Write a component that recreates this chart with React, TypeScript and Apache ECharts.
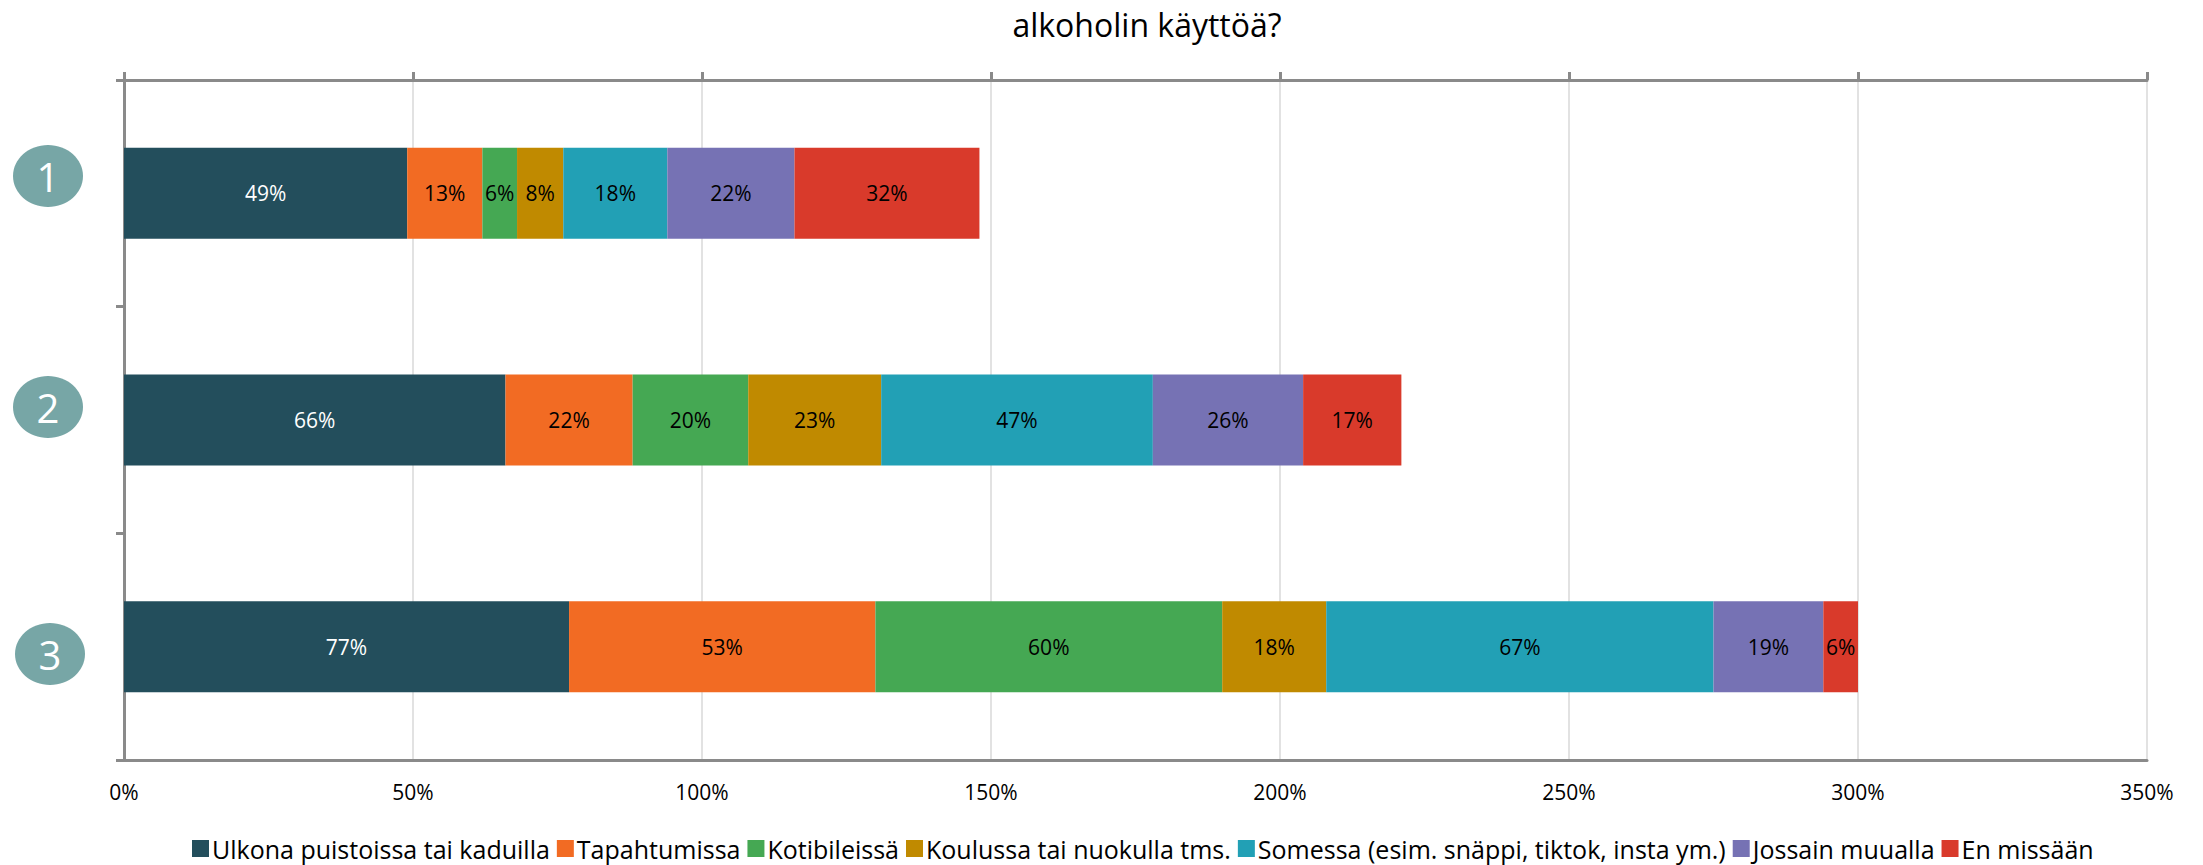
import React, { useEffect, useRef } from "react";
import * as echarts from "echarts";

const titleText = "alkoholin käyttöä?";
const categories = ["1", "2", "3"];
const seriesNames = [
  "Ulkona puistoissa tai kaduilla",
  "Tapahtumissa",
  "Kotibileissä",
  "Koulussa tai nuokulla tms.",
  "Somessa (esim. snäppi, tiktok, insta ym.)",
  "Jossain muualla",
  "En missään",
];
const ulkona = [49, 66, 77];
const tapahtumissa = [13, 22, 53];
const kotibileissa = [6, 20, 60];
const koulussa = [8, 23, 18];
const somessa = [18, 47, 67];
const jossain = [22, 26, 19];
const enMissaan = [32, 17, 6];
const seriesValues = [ulkona, tapahtumissa, kotibileissa, koulussa, somessa, jossain, enMissaan];
const colors = ["#234E5C", "#F26B23", "#45A853", "#C08A00", "#22A0B5", "#7672B4", "#D93A2B"];
const xTicks = { min: 0, max: 350, interval: 50 };

const FONT = "'Open Sans', sans-serif";
const AXIS_GRAY = "#8A8A8A";

export default function App() {
  const ref = useRef<HTMLDivElement>(null);
  useEffect(() => {
    if (!ref.current) return;
    const chart = echarts.init(ref.current, null, { renderer: "svg" });
    const circlePos = [
      [48, 176],
      [48, 407],
      [50, 654],
    ];
    const graphics: any[] = [];
    categories.forEach((c, i) => {
      graphics.push({
        type: "ellipse",
        shape: { cx: circlePos[i][0], cy: circlePos[i][1], rx: 35, ry: 31 },
        style: { fill: "#77A6A6" },
        z: 10,
      });
      graphics.push({
        type: "text",
        x: circlePos[i][0],
        y: circlePos[i][1],
        style: {
          text: c,
          fill: "#ffffff",
          font: `40px ${FONT}`,
          textAlign: "center",
          textVerticalAlign: "middle",
        },
        z: 11,
      });
    });
    chart.setOption({
      animation: false,
      textStyle: { fontFamily: FONT },
      title: {
        text: titleText,
        left: 1142,
        textAlign: "center",
        top: 3,
        textStyle: { fontFamily: FONT, fontSize: 32, fontWeight: "normal", color: "#000" },
      },
      legend: {
        left: 192,
        top: 836,
        padding: 0,
        icon: "rect",
        itemWidth: 17,
        itemHeight: 17,
        itemGap: 7,
        textStyle: { fontFamily: FONT, fontSize: 25, color: "#000", padding: [0, 0, 0, -2] },
        data: seriesNames,
      },
      grid: { left: 124, top: 80, width: 2023, height: 680, containLabel: false },
      xAxis: [
        {
          type: "value",
          position: "bottom",
          min: xTicks.min,
          max: xTicks.max,
          interval: xTicks.interval,
          axisLine: { show: true, lineStyle: { color: AXIS_GRAY, width: 3 } },
          axisTick: { show: false },
          axisLabel: {
            formatter: "{value}%",
            margin: 21,
            fontFamily: FONT,
            fontSize: 21,
            color: "#000",
          },
          splitLine: { show: true, lineStyle: { color: "#D9D9D9", width: 1.5 } },
        },
        {
          type: "value",
          position: "top",
          min: xTicks.min,
          max: xTicks.max,
          interval: xTicks.interval,
          axisLine: { show: true, onZero: false, lineStyle: { color: AXIS_GRAY, width: 3 } },
          axisTick: { show: true, length: 8, lineStyle: { color: AXIS_GRAY, width: 3 } },
          axisLabel: { show: false },
          splitLine: { show: false },
        },
      ],
      yAxis: {
        type: "category",
        inverse: true,
        data: categories,
        axisLine: { show: true, onZero: false, lineStyle: { color: AXIS_GRAY, width: 3 } },
        axisTick: { show: true, length: 8, lineStyle: { color: AXIS_GRAY, width: 3 } },
        axisLabel: { show: false },
      },
      series: seriesNames.map((name, i) => ({
        name,
        type: "bar",
        stack: "total",
        xAxisIndex: 0,
        barWidth: 91,
        itemStyle: { color: colors[i] },
        label: {
          show: true,
          position: "inside",
          formatter: "{c}%",
          fontFamily: FONT,
          fontSize: 21,
          color: i === 0 ? "#ffffff" : "#000000",
        },
        data: seriesValues[i],
      })),
      graphic: graphics,
    });
    return () => chart.dispose();
  }, []);
  return (
    <div
      ref={ref}
      style={{ position: "fixed", left: 0, top: 0, width: 2203, height: 865, background: "#fff" }}
    />
  );
}
